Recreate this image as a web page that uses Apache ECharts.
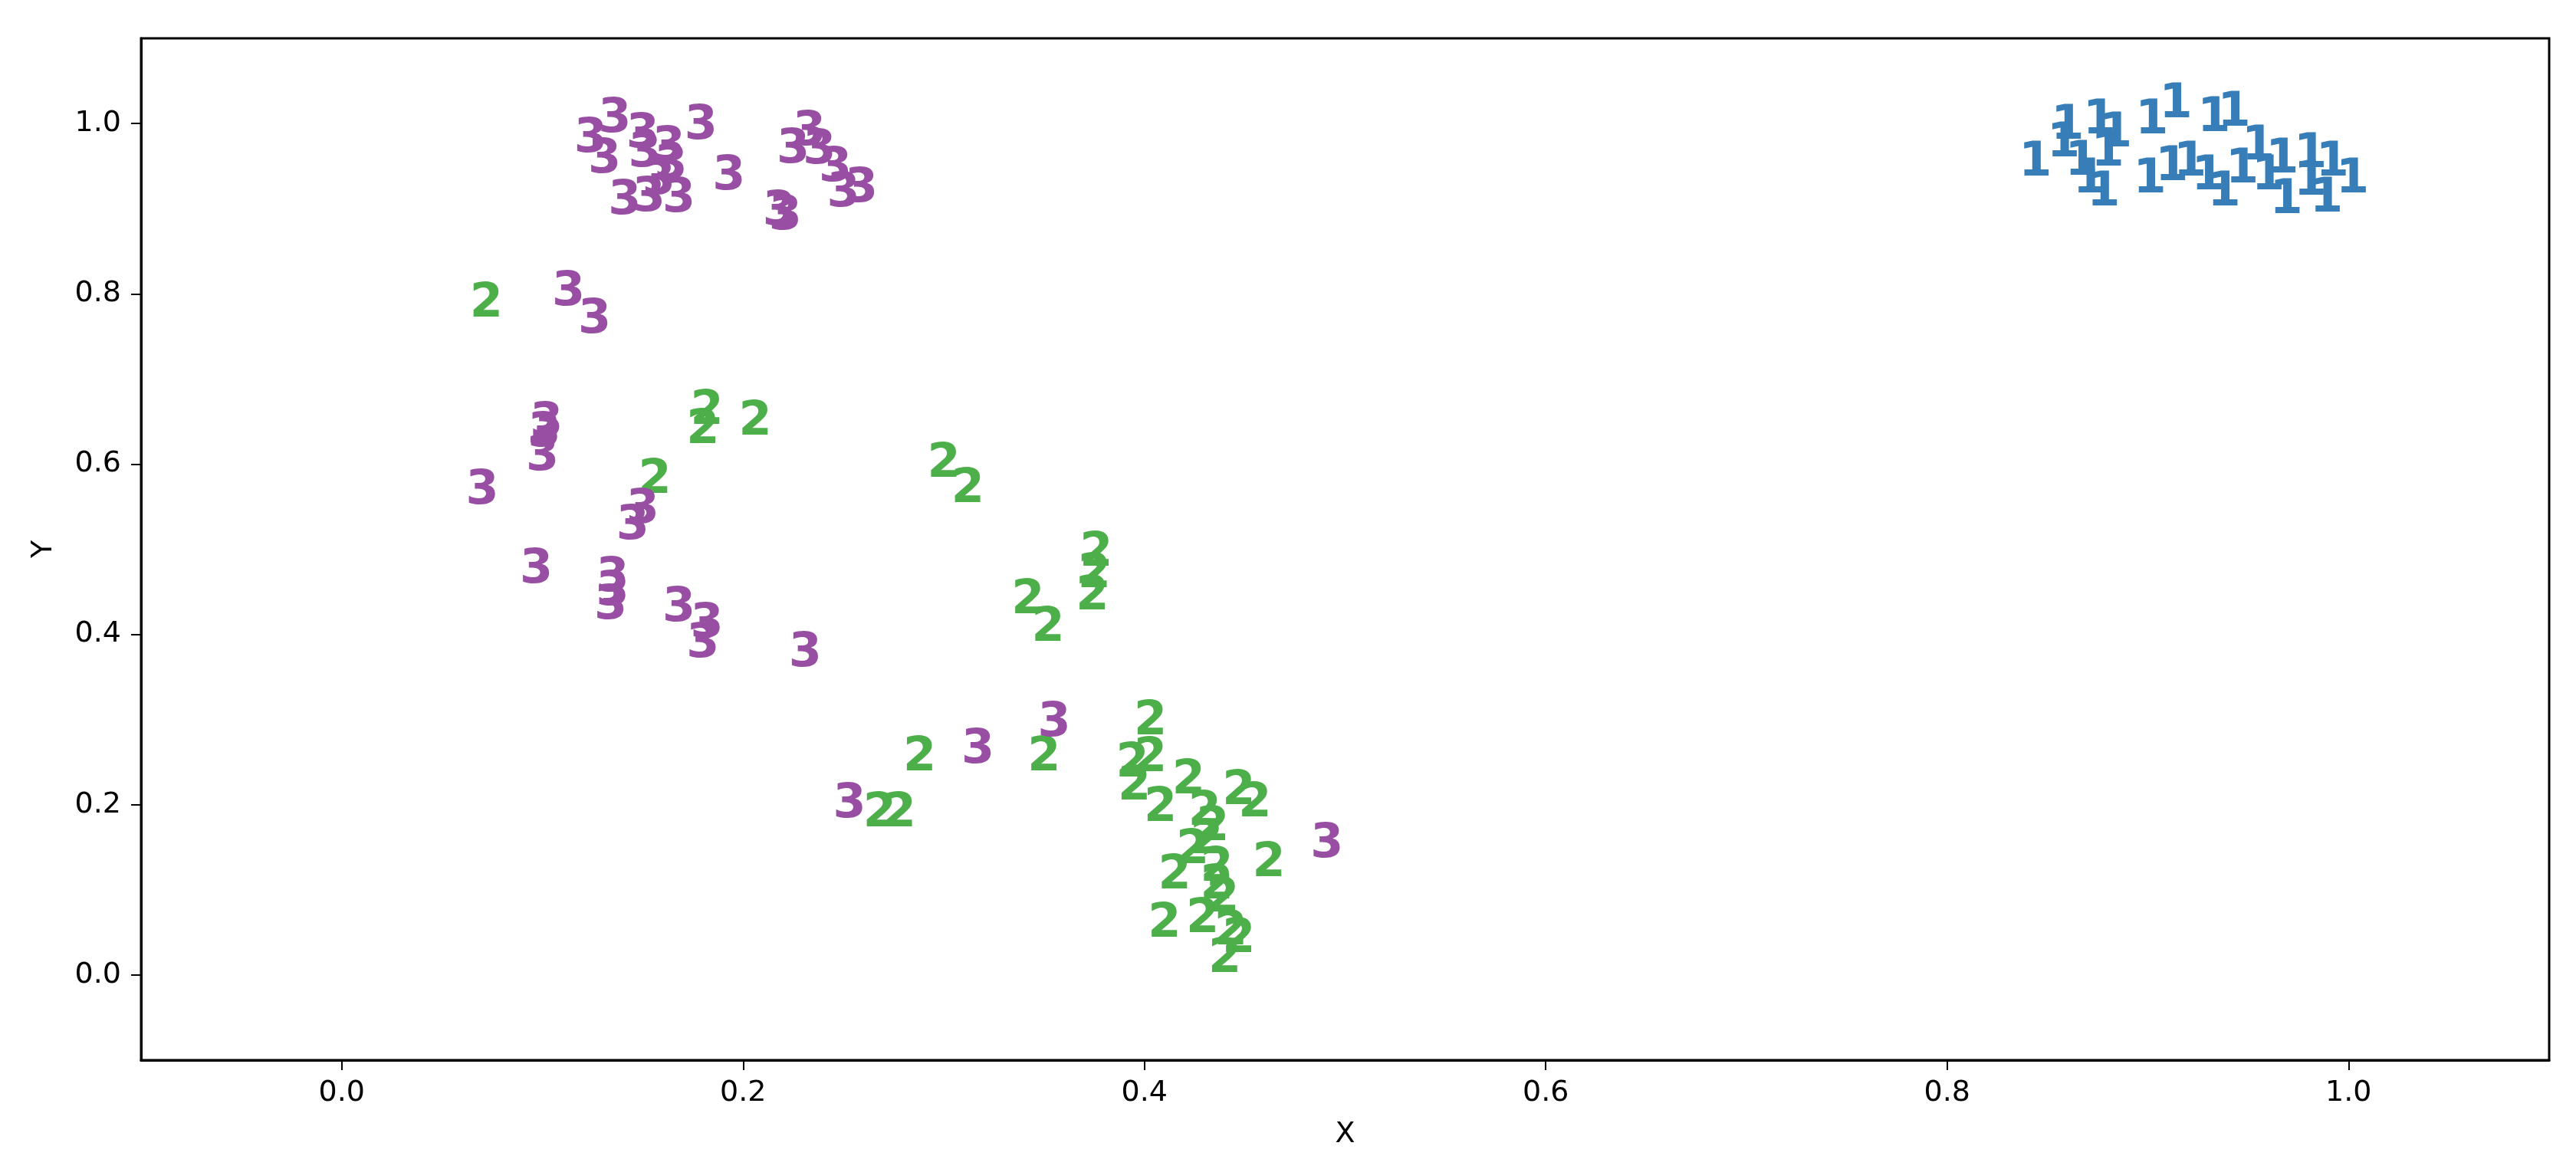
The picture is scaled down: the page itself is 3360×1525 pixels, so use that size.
<!DOCTYPE html>
<html>
<head>
<meta charset="utf-8">
<script src="https://cdn.jsdelivr.net/npm/echarts@6/dist/echarts.min.js"></script>
<style>
  html, body { margin: 0; padding: 0; background: #fff; }
  #chart { width: 3360px; height: 1525px; }
</style>
</head>
<body>
<div id="chart"></div>
<script>
  // embedded points, one array per digit class
  var ones = [
    [0.844, 0.953], [0.860, 0.997], [0.858, 0.976], [0.876, 1.003], [0.884, 0.988],
    [0.867, 0.954], [0.871, 0.934], [0.878, 0.918], [0.902, 1.003], [0.901, 0.934],
    [0.914, 1.022], [0.912, 0.948], [0.921, 0.953], [0.933, 1.006], [0.930, 0.937],
    [0.938, 0.918], [0.943, 1.012], [0.955, 0.972], [0.960, 0.937], [0.967, 0.957],
    [0.969, 0.909], [0.981, 0.963], [0.981, 0.931], [0.989, 0.911], [0.992, 0.953],
    [1.002, 0.934], [0.880, 0.965], [0.947, 0.945]
  ]
  var twos = [
    [0.072, 0.788], [0.182, 0.662], [0.180, 0.639], [0.206, 0.649], [0.156, 0.581],
    [0.300, 0.600], [0.312, 0.570], [0.376, 0.495], [0.375, 0.470], [0.374, 0.444],
    [0.342, 0.439], [0.352, 0.407], [0.288, 0.255], [0.350, 0.255], [0.268, 0.189],
    [0.278, 0.189], [0.403, 0.297], [0.394, 0.248], [0.403, 0.254], [0.395, 0.221],
    [0.422, 0.228], [0.408, 0.195], [0.447, 0.215], [0.455, 0.201], [0.430, 0.191],
    [0.434, 0.173], [0.431, 0.158], [0.424, 0.146], [0.415, 0.116], [0.436, 0.125],
    [0.462, 0.131], [0.436, 0.104], [0.439, 0.089], [0.410, 0.059], [0.429, 0.065],
    [0.443, 0.050], [0.447, 0.041], [0.440, 0.018]
  ]
  var threes = [
    [0.124, 0.981], [0.136, 1.005], [0.131, 0.957], [0.150, 0.987], [0.151, 0.964],
    [0.163, 0.971], [0.164, 0.950], [0.141, 0.908], [0.153, 0.912], [0.168, 0.911],
    [0.179, 0.997], [0.193, 0.937], [0.218, 0.896], [0.221, 0.890], [0.225, 0.969],
    [0.233, 0.989], [0.238, 0.968], [0.246, 0.947], [0.250, 0.917], [0.259, 0.923],
    [0.158, 0.932],
    [0.113, 0.801], [0.126, 0.769], [0.102, 0.647], [0.101, 0.636], [0.100, 0.608],
    [0.070, 0.568], [0.150, 0.546], [0.145, 0.527], [0.097, 0.475], [0.135, 0.465],
    [0.135, 0.449], [0.134, 0.433], [0.168, 0.430], [0.182, 0.411], [0.180, 0.388],
    [0.231, 0.377],
    [0.317, 0.264], [0.355, 0.295], [0.253, 0.200], [0.491, 0.153]
  ]
  var tickValues = [0.0, 0.2, 0.4, 0.6, 0.8, 1.0]

  var digitSeries = function (name, data, color) {
    return {
      name: name,
      type: 'scatter',
      data: data,
      symbolSize: 1,
      itemStyle: { color: 'rgba(0,0,0,0)', opacity: 1 },
      silent: true,
      label: {
        show: true,
        position: 'inside',
        formatter: name,
        color: color,
        opacity: 1,
        fontFamily: 'DejaVu Sans',
        fontWeight: 'bold',
        fontSize: 62
      }
    }
  }

  var axisCommon = {
    type: 'value',
    min: -0.1,
    max: 1.1,
    splitLine: { show: false },
    axisLine: { show: true, onZero: false, lineStyle: { color: '#000', width: 3 } },
    axisTick: {
      show: true, length: 13, customValues: tickValues,
      lineStyle: { color: '#000', width: 2 }
    },
    nameLocation: 'middle',
    nameTextStyle: { fontFamily: 'DejaVu Sans', fontSize: 38, color: '#000' }
  }

  var myChar = echarts.init(document.getElementById('chart'))
  myChar.setOption({
    animation: false,
    backgroundColor: '#fff',
    grid: {
      left: 184, right: 35, top: 50, bottom: 142,
      containLabel: false,
      outerBoundsMode: 'none',
      show: true,
      borderColor: '#000',
      borderWidth: 3
    },
    xAxis: Object.assign({}, axisCommon, {
      name: 'X',
      nameGap: 78,
      axisLabel: {
        customValues: tickValues, margin: 24,
        fontFamily: 'DejaVu Sans', fontSize: 38, color: '#000',
        formatter: function (v) { return v.toFixed(1) }
      }
    }),
    yAxis: Object.assign({}, axisCommon, {
      name: 'Y',
      nameGap: 108,
      axisLabel: {
        customValues: tickValues, margin: 26,
        fontFamily: 'DejaVu Sans', fontSize: 38, color: '#000',
        formatter: function (v) { return v.toFixed(1) }
      }
    }),
    series: [
      digitSeries('1', ones, '#377eb8'),
      digitSeries('2', twos, '#4daf4a'),
      digitSeries('3', threes, '#984ea3')
    ]
  })
</script>
</body>
</html>
